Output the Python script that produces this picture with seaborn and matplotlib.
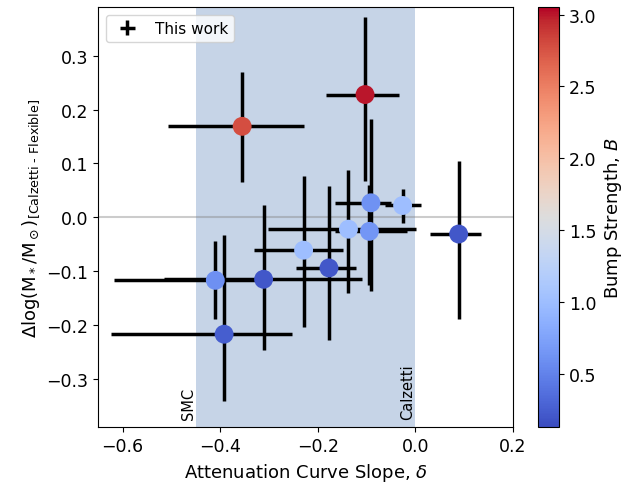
import matplotlib
matplotlib.use("Agg")
import matplotlib.pyplot as plt
import seaborn as sns
import numpy as np
import pandas as pd
from matplotlib.cm import ScalarMappable
from matplotlib.colors import Normalize

# ---- data ----
delta = [-0.355, -0.103, -0.091, -0.026, -0.137, -0.094, 0.089, -0.229, -0.177, -0.410, -0.311, -0.392]
delta_err_lo = [0.152, 0.081, 0.073, 0.036, 0.165, 0.071, 0.059, 0.102, 0.067, 0.208, 0.204, 0.232]
delta_err_hi = [0.126, 0.069, 0.042, 0.038, 0.139, 0.076, 0.045, 0.080, 0.055, 0.097, 0.201, 0.139]
dmass = [0.169, 0.228, 0.027, 0.022, -0.022, -0.026, -0.031, -0.061, -0.094, -0.117, -0.115, -0.217]
dmass_err_lo = [0.104, 0.160, 0.164, 0.033, 0.119, 0.099, 0.157, 0.142, 0.134, 0.071, 0.132, 0.124]
dmass_err_hi = [0.101, 0.144, 0.155, 0.031, 0.110, 0.086, 0.136, 0.137, 0.152, 0.073, 0.138, 0.185]
bump = [2.78, 3.0, 0.62, 1.0, 1.0, 0.65, 0.2, 1.0, 0.2, 0.6, 0.2, 0.25]

b_min, b_max = 0.13, 3.05
smc_delta, calzetti_delta = -0.45, 0.0
xticks = [-0.6, -0.4, -0.2, 0.0, 0.2]
yticks = [-0.3, -0.2, -0.1, 0.0, 0.1, 0.2, 0.3]

df = pd.DataFrame({"delta": delta, "dmass": dmass, "B": bump})

fig = plt.figure(figsize=(6.3, 4.89), dpi=100)
ax = fig.add_axes([0.156, 0.124, 0.658, 0.859])
cax = fig.add_axes([0.854, 0.124, 0.034, 0.859])

ax.axvspan(smc_delta, calzetti_delta, color="lightsteelblue", alpha=0.72, lw=0, zorder=0)
ax.axhline(0, color="gray", alpha=0.4, lw=1.5, zorder=1)

ax.errorbar(delta, dmass,
            xerr=[delta_err_lo, delta_err_hi],
            yerr=[dmass_err_lo, dmass_err_hi],
            fmt="none", ecolor="black", elinewidth=2.5, capsize=0,
            label="This work", zorder=2)

norm = Normalize(vmin=b_min, vmax=b_max)
sns.scatterplot(data=df, x="delta", y="dmass", hue="B", palette="coolwarm",
                hue_norm=norm, s=185, edgecolor="none", linewidth=0,
                legend=False, ax=ax, zorder=3)

ax.text(smc_delta, -0.375, "SMC", rotation=90, ha="right", va="bottom", fontsize=10.5)
ax.text(calzetti_delta, -0.375, "Calzetti", rotation=90, ha="right", va="bottom", fontsize=10.5)

ax.set_xlim(-0.65, 0.2)
ax.set_ylim(-0.39, 0.39)
ax.set_xticks(xticks)
ax.set_yticks(yticks)
ax.tick_params(labelsize=12.5)
ax.set_xlabel(r"Attenuation Curve Slope, $\delta$", fontsize=13)
ax.set_ylabel("$\\Delta$log(M$_*$/M$_\\odot$)$_{\\rm [Calzetti\\ \u2010\\ Flexible]}$", fontsize=13)
ax.legend(loc="upper left", fontsize=11)

sm = ScalarMappable(norm=norm, cmap="coolwarm")
cb = fig.colorbar(sm, cax=cax)
cb.set_ticks([0.5, 1.0, 1.5, 2.0, 2.5, 3.0])
cb.ax.tick_params(labelsize=12.5)
cb.set_label(r"Bump Strength, $B$", fontsize=13)

fig.savefig("out.png", dpi=100)
